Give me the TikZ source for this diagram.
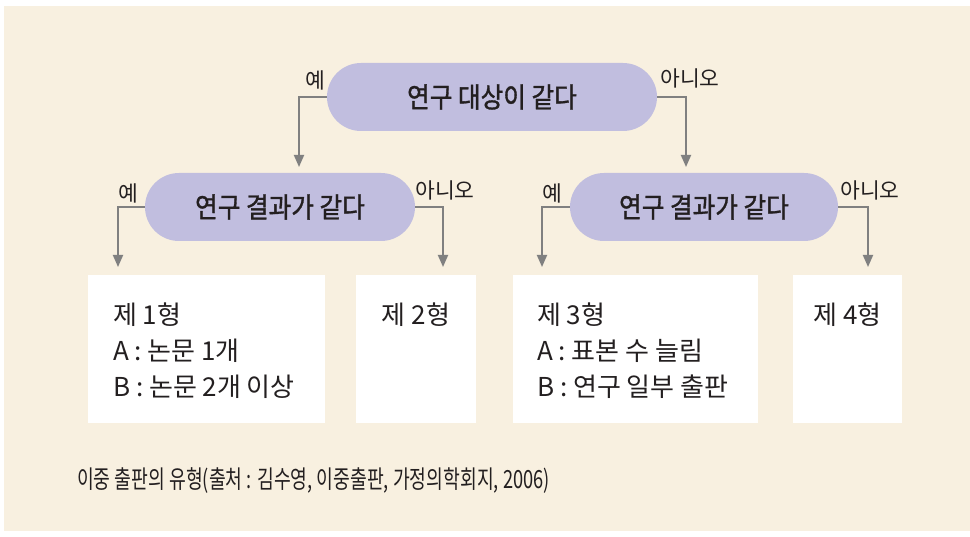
\documentclass[tikz,border=0pt]{standalone}
\usepackage{fontspec}
\setmainfont{Noto Sans CJK KR}
\newfontfamily\krpill[FakeBold=1.2,FakeStretch=0.88]{Noto Sans CJK KR}
\newfontfamily\krcap[FakeStretch=0.73]{Noto Sans CJK KR}
\usetikzlibrary{arrows.meta}
\definecolor{bgcream}{HTML}{F8F0E0}
\definecolor{pillfill}{HTML}{C1BEDF}
\definecolor{arrgray}{HTML}{808080}
\definecolor{txtdark}{HTML}{231F20}
\tikzset{
  pill/.style={fill=pillfill, rounded corners=34pt, inner sep=0pt, minimum height=68pt, font=\krpill\fontsize{28}{30}\selectfont, text=txtdark},
  outbox/.style={fill=white, inner sep=0pt, anchor=north west},
  boxtext/.style={font=\fontsize{26}{30}\selectfont, text=txtdark, inner sep=0pt, anchor=base west},
  captext/.style={font=\krcap\fontsize{25}{30}\selectfont, text=txtdark, inner sep=0pt, anchor=base west},
  lbl/.style={font=\fontsize{21.5}{24}\selectfont, text=txtdark, inner sep=0pt},
  arr/.style={draw=arrgray, line width=1.8pt, -{Triangle[length=12pt,width=10pt]}}
}
\begin{document}
\begin{tikzpicture}[x=1pt,y=-1pt]
\useasboundingbox (0,0) rectangle (970,537);
\fill[bgcream] (4,6) rectangle (970,531);
% pills
\node[pill, minimum width=330pt] (top) at (492,97) {연구 대상이 같다};
\node[pill, minimum width=270pt] (lp) at (280,207) {연구 결과가 같다};
\node[pill, minimum width=268pt] (rp) at (704,207) {연구 결과가 같다};
% arrow ends
\coordinate (t1) at (299,167);
\coordinate (t2) at (686,167);
\coordinate (t3) at (118,267);
\coordinate (t4) at (443,267);
\coordinate (t5) at (542,267);
\coordinate (t6) at (868,267);
\draw[arr] (top.west) -| (t1);
\draw[arr] (top.east) -| (t2);
\draw[arr] (lp.west) -| (t3);
\draw[arr] (lp.east) -| (t4);
\draw[arr] (rp.west) -| (t5);
\draw[arr] (rp.east) -| (t6);
% labels
\node[lbl] (ly1) at (315,80) {예};
\node[lbl] (ln1) at (690,78) {아니오};
\node[lbl] (ly2) at (128,193) {예};
\node[lbl] (ln2) at (445,190) {아니오};
\node[lbl] (ly3) at (552,193) {예};
\node[lbl] (ln3) at (870,190) {아니오};
% boxes
\node[outbox, minimum width=237pt, minimum height=148pt] (b1) at (88,275) {};
\node[outbox, minimum width=120pt, minimum height=148pt] (b2) at (356,275) {};
\node[outbox, minimum width=245pt, minimum height=148pt] (b3) at (513,275) {};
\node[outbox, minimum width=109pt, minimum height=148pt] (b4) at (793,275) {};
\node[boxtext] (b1a) at (113,325) {제 1형};
\node[boxtext] (b1b) at (113,361) {A : 논문 1개};
\node[boxtext] (b1c) at (113,397) {B : 논문 2개 이상};
\node[boxtext, anchor=base] (b2a) at (416,325) {제 2형};
\node[boxtext] (b3a) at (537,325) {제 3형};
\node[boxtext] (b3b) at (537,361) {A : 표본 수 늘림};
\node[boxtext] (b3c) at (537,397) {B : 연구 일부 출판};
\node[boxtext, anchor=base] (b4a) at (847.5,325) {제 4형};
% caption
\node[captext] (cap) at (77,489) {이중 출판의 유형(출처 : 김수영, 이중출판, 가정의학회지, 2006)};
\end{tikzpicture}
\end{document}
